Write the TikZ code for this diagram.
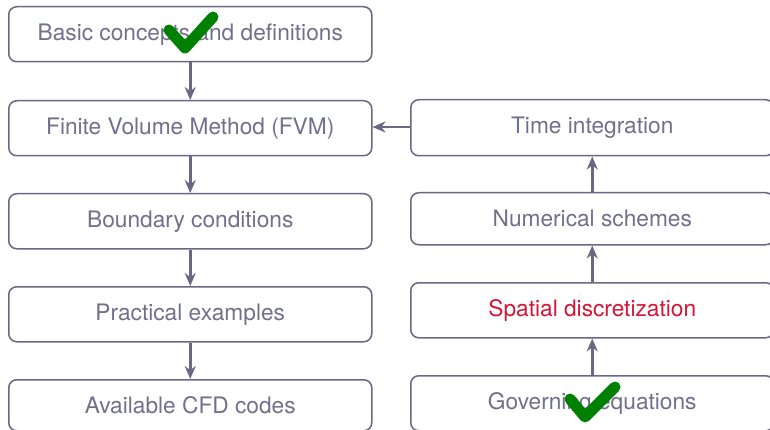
\documentclass[tikz,border=0pt]{standalone}
\usepackage{fontspec}
\setmainfont{TeX Gyre Heros}
\usetikzlibrary{arrows.meta}
\definecolor{edge}{RGB}{104,104,134}
\definecolor{txt}{RGB}{112,112,140}
\definecolor{hot}{RGB}{214,20,52}
\definecolor{ok}{RGB}{0,128,0}
\tikzset{
  box/.style={draw=edge, line width=1.5pt, rounded corners=8pt, minimum width=363pt, minimum height=55pt, inner sep=0pt, text=txt, font=\fontsize{22.7}{26}\selectfont, anchor=north west},
  conn/.style={draw=edge, line width=2.8pt, -{Stealth[length=13pt,width=11pt]}},
  tick/.style={draw=ok, line width=11pt, line cap=round, line join=round}
}
\begin{document}
\begin{tikzpicture}[x=1pt,y=-1pt]
\useasboundingbox (0,0) rectangle (770,430);
\node[box] (b1) at (8,6) {Basic concepts and definitions};
\node[box] (b2) at (8,100) {Finite Volume Method (FVM)};
\node[box] (b3) at (8,193) {Boundary conditions};
\node[box] (b4) at (8,286) {Practical examples};
\node[box, minimum height=51pt] (b5) at (8,379) {Available CFD codes};
\node[box, minimum height=56pt] (r1) at (410,99) {Time integration};
\node[box, minimum height=52pt] (r2) at (410,192) {Numerical schemes};
\node[box, text=hot] (r3) at (410,282) {Spatial discretization};
\node[box] (r4) at (410,375) {Governing equations};
\draw[conn] (b1) -- (b2);
\draw[conn] (b2) -- (b3);
\draw[conn] (b3) -- (b4);
\draw[conn] (b4) -- (b5);
\draw[conn] (r4) -- (r3);
\draw[conn] (r3) -- (r2);
\draw[conn] (r2) -- (r1);
\draw[conn] (r1.west |- 0,127) -- (b2.east |- 0,127);
\draw[tick] (169,30) -- (185,48) -- (213,17);
\draw[tick] (570,399) -- (585,417) -- (615,387);
\end{tikzpicture}
\end{document}
